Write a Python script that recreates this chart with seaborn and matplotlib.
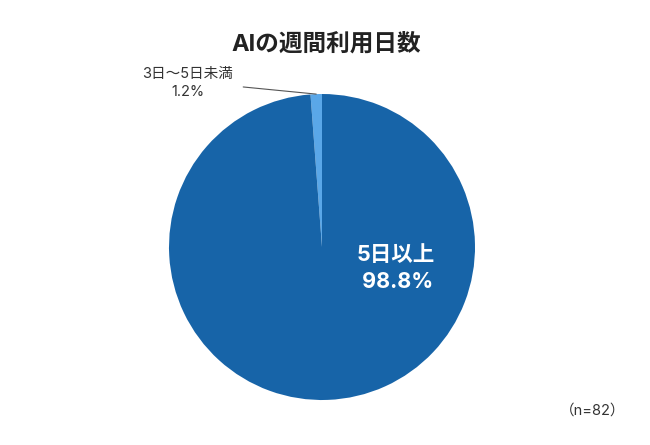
import numpy as np
import matplotlib.pyplot as plt
import seaborn as sns

labels = ["3日〜5日未満", "5日以上"]
shares = [1.2, 98.8]
colors = ["#5AA7E8", "#1764A8"]
title = "AIの週間利用日数"
note = "（n=82）"

sns.set_theme(style="white")
plt.rcParams['font.family'] = ['Inter', 'Noto Sans CJK JP', 'DejaVu Sans']

fig = plt.figure(figsize=(6.5, 4.45), dpi=100)
ax = fig.add_axes([169 / 650, 45 / 445, 306 / 650, 306 / 445])

wedges, _ = ax.pie(shares, colors=colors, startangle=90, counterclock=True,
                   radius=1.0, wedgeprops=dict(linewidth=0))
ax.set_xlim(-1, 1)
ax.set_ylim(-1, 1)
ax.set_aspect("equal")
ax.axis("off")

# small slice: label outside with leader line
mid = np.deg2rad(90 + 360 * shares[0] / 100 / 2)
ax.annotate("", xy=(np.cos(mid), np.sin(mid)), xytext=(-0.515, 1.046),
            arrowprops=dict(arrowstyle="-", color="#555555", lw=0.8,
                            shrinkA=0, shrinkB=0),
            annotation_clip=False)
ax.text(-0.876, 1.07, f"{labels[0]}\n{shares[0]:.1f}%", ha="center", va="center",
        fontsize=10.5, color="#333333", clip_on=False, linespacing=1.35)

# big slice: label inside
ax.text(0.48, -0.14, f"{labels[1]}\n {shares[1]:.1f}%", ha="center", va="center",
        fontsize=15.5, fontweight="bold", color="white", linespacing=1.4)

fig.text(326 / 650, 1 - 44 / 445, title, ha="center", va="center",
         fontsize=17, fontweight="bold", color="#222222")
fig.text(593 / 650, 1 - 411 / 445, note, ha="center", va="center",
         fontsize=10.5, color="#333333")

fig.savefig("out.png", dpi=100)
